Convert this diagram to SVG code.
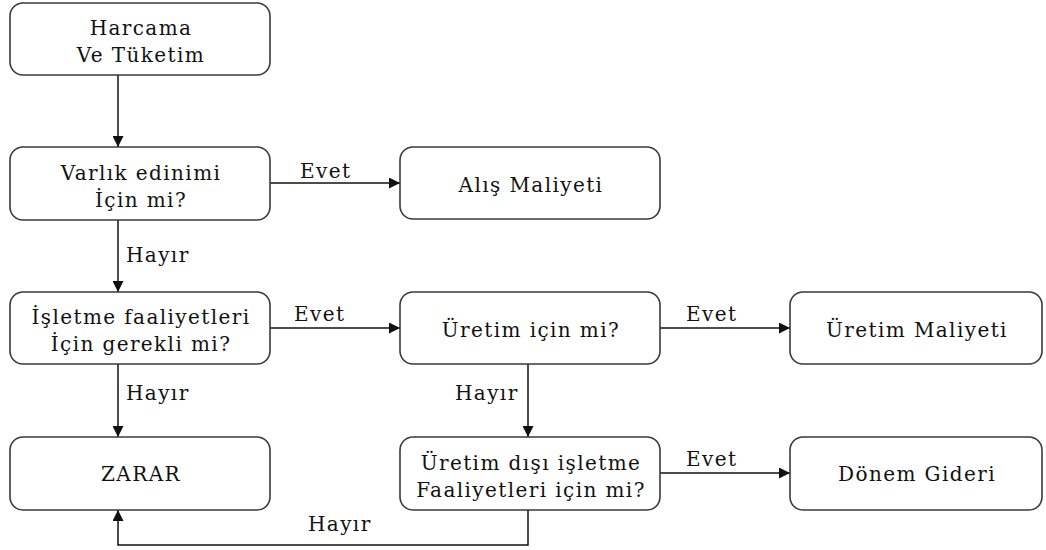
<svg xmlns="http://www.w3.org/2000/svg" width="1046" height="550" viewBox="0 0 1046 550">
  <style>
    .box { fill: #ffffff; stroke: #3a3a3a; stroke-width: 1.6; }
    .txt { font-family: "DejaVu Serif", "Liberation Serif", serif; font-size: 20px; letter-spacing: 1.4px; fill: #111111; text-anchor: middle; }
    .lbl { font-family: "DejaVu Serif", "Liberation Serif", serif; font-size: 20px; letter-spacing: 1.4px; fill: #111111; }
    .wire { fill: none; stroke: #111111; stroke-width: 1.5; }
  </style>
  <defs>
    <marker id="arrow" viewBox="0 0 10 10" refX="10" refY="5" markerWidth="11" markerHeight="11" markerUnits="userSpaceOnUse" orient="auto">
      <path d="M0,0 L10,5 L0,10 Z" fill="#111111"/>
    </marker>
  </defs>
  <rect width="1046" height="550" fill="#ffffff"/>

  <!-- connectors -->
  <g id="connectors">
    <line class="wire" x1="118" y1="75" x2="118" y2="147" marker-end="url(#arrow)"/>
    <line class="wire" x1="270" y1="183" x2="400" y2="183" marker-end="url(#arrow)"/>
    <line class="wire" x1="118" y1="220" x2="118" y2="292" marker-end="url(#arrow)"/>
    <line class="wire" x1="270" y1="328" x2="400" y2="328" marker-end="url(#arrow)"/>
    <line class="wire" x1="660" y1="328" x2="790" y2="328" marker-end="url(#arrow)"/>
    <line class="wire" x1="118" y1="364" x2="118" y2="437" marker-end="url(#arrow)"/>
    <line class="wire" x1="528" y1="364" x2="528" y2="437" marker-end="url(#arrow)"/>
    <line class="wire" x1="660" y1="473" x2="790" y2="473" marker-end="url(#arrow)"/>
    <polyline class="wire" points="528,510 528,545 118,545 118,510" marker-end="url(#arrow)"/>

    <text class="lbl" x="300" y="178">Evet</text>
    <text class="lbl" x="126" y="262">Hayır</text>
    <text class="lbl" x="294" y="321">Evet</text>
    <text class="lbl" x="686" y="321">Evet</text>
    <text class="lbl" x="126" y="400">Hayır</text>
    <text class="lbl" x="455" y="400">Hayır</text>
    <text class="lbl" x="686" y="466">Evet</text>
    <text class="lbl" x="308" y="531">Hayır</text>
  </g>

  <g id="harcama">
    <rect class="box" x="10" y="3" width="260" height="72" rx="13"/>
    <text class="txt" x="141" y="35">Harcama</text>
    <text class="txt" x="141" y="62">Ve Tüketim</text>
  </g>

  <g id="varlik">
    <rect class="box" x="10" y="147" width="260" height="73" rx="13"/>
    <text class="txt" x="141" y="180">Varlık edinimi</text>
    <text class="txt" x="141" y="207">İçin mi?</text>
  </g>

  <g id="alis">
    <rect class="box" x="400" y="147" width="260" height="72" rx="13"/>
    <text class="txt" x="531" y="192">Alış Maliyeti</text>
  </g>

  <g id="isletme">
    <rect class="box" x="10" y="292" width="260" height="72" rx="13"/>
    <text class="txt" x="141" y="324">İşletme faaliyetleri</text>
    <text class="txt" x="141" y="351">İçin gerekli mi?</text>
  </g>

  <g id="uretim">
    <rect class="box" x="400" y="292" width="260" height="72" rx="13"/>
    <text class="txt" x="531" y="337">Üretim için mi?</text>
  </g>

  <g id="uretim-maliyeti">
    <rect class="box" x="790" y="292" width="252" height="72" rx="13"/>
    <text class="txt" x="917" y="337">Üretim Maliyeti</text>
  </g>

  <g id="zarar">
    <rect class="box" x="10" y="437" width="260" height="73" rx="13"/>
    <text class="txt" x="141" y="481">ZARAR</text>
  </g>

  <g id="uretim-disi">
    <rect class="box" x="400" y="437" width="260" height="73" rx="13"/>
    <text class="txt" x="531" y="470">Üretim dışı işletme</text>
    <text class="txt" x="531" y="497">Faaliyetleri için mi?</text>
  </g>

  <g id="donem">
    <rect class="box" x="790" y="437" width="252" height="73" rx="13"/>
    <text class="txt" x="917" y="481">Dönem Gideri</text>
  </g>
</svg>
